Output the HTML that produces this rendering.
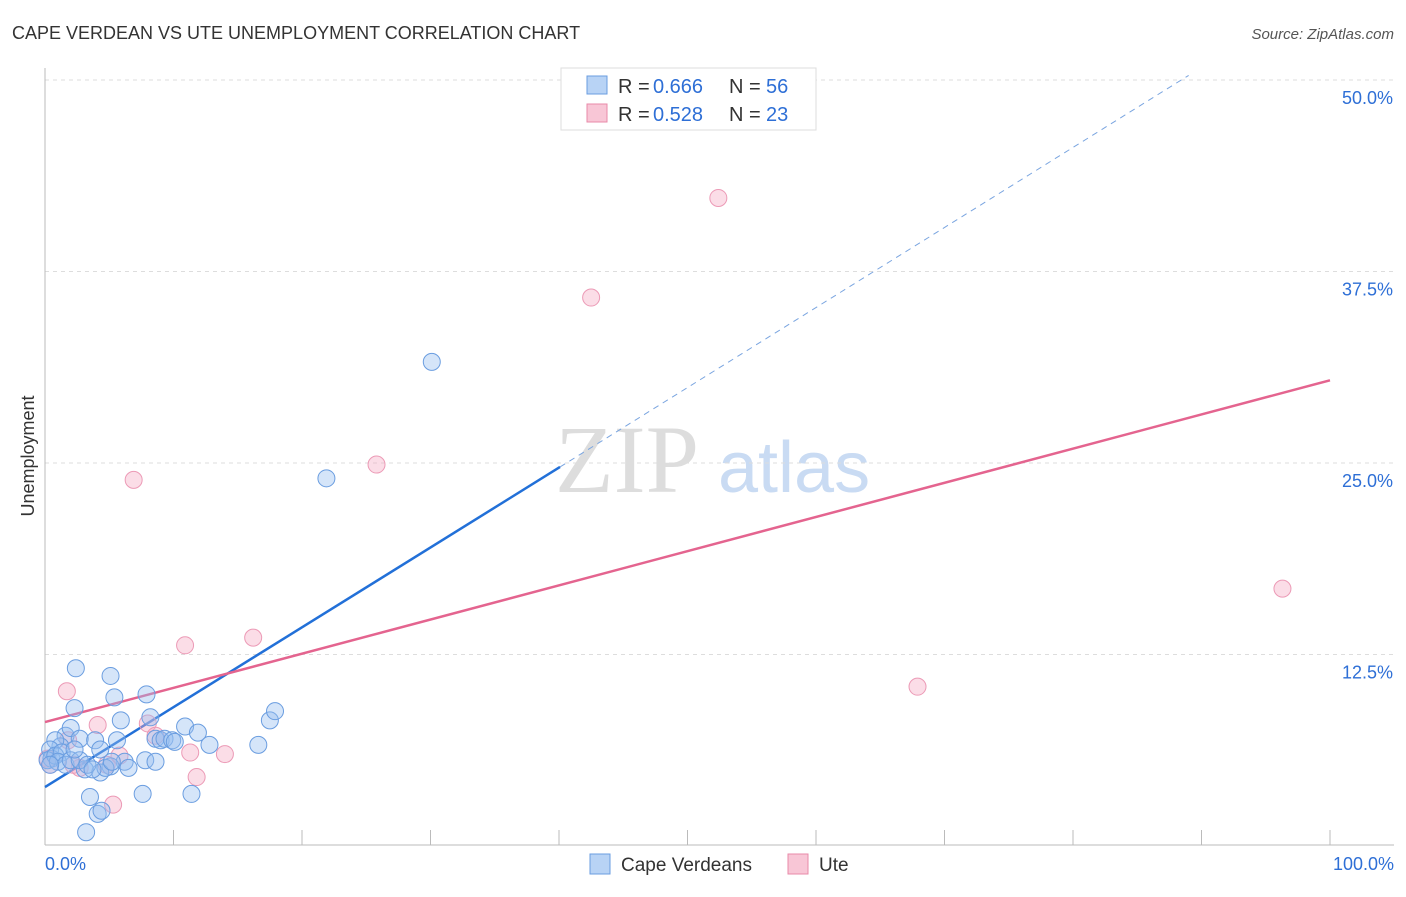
<!DOCTYPE html>
<html><head><meta charset="utf-8"><style>
body{margin:0;background:#fff;font-family:"Liberation Sans",sans-serif;}
</style></head><body>
<svg id="c" width="1406" height="892" xmlns="http://www.w3.org/2000/svg">
<text x="12" y="39" font-size="18" fill="#333">CAPE VERDEAN VS UTE UNEMPLOYMENT CORRELATION CHART</text>
<text x="1394" y="39" font-size="15" fill="#555" text-anchor="end" font-style="italic">Source: ZipAtlas.com</text>
<text transform="translate(34,456) rotate(-90)" font-size="18" fill="#333" text-anchor="middle">Unemployment</text>
<text x="555" y="492" font-size="96" fill="#ddd" font-family="Liberation Serif,serif">ZIP</text>
<text x="718" y="492" font-size="72" fill="#c9dbf3">atlas</text>
<g id="grid"></g><g id="axes"></g><g id="lines"></g><g id="pts"></g>
<g>
<rect x="561" y="68" width="255" height="62" fill="#fff" stroke="#ddd"/>
<rect x="587" y="76" width="20" height="18" fill="#b8d3f5" stroke="#6a9de0"/>
<rect x="587" y="104" width="20" height="18" fill="#f8c6d6" stroke="#e88aa8"/>
<text x="618" y="93" font-size="20" fill="#333">R =</text><text x="653" y="93" font-size="20" fill="#2e6fd6">0.666</text>
<text x="729" y="93" font-size="20" fill="#333">N =</text><text x="766" y="93" font-size="20" fill="#2e6fd6">56</text>
<text x="618" y="121" font-size="20" fill="#333">R =</text><text x="653" y="121" font-size="20" fill="#2e6fd6">0.528</text>
<text x="729" y="121" font-size="20" fill="#333">N =</text><text x="766" y="121" font-size="20" fill="#2e6fd6">23</text>
</g>
<g>
<rect x="590" y="854" width="20" height="20" fill="#b8d3f5" stroke="#6a9de0"/>
<text x="621" y="871" font-size="19" fill="#333">Cape Verdeans</text>
<rect x="788" y="854" width="20" height="20" fill="#f8c6d6" stroke="#e88aa8"/>
<text x="819" y="871" font-size="19" fill="#333">Ute</text>
</g>
</svg>
<script>
const yTicks=[12.5,25,37.5,50];
const yTickLabels=["12.5%","25.0%","37.5%","50.0%"];
const xTicks=[0,10,20,30,40,50,60,70,80,90,100];
const xLabels=["0.0%","100.0%"];
const blueX=[2.4,5.1,5.4,7.9,2.3,5.9,8.2,10.9,11.9,17.5,17.9,1.6,2.0,2.7,3.9,4.3,5.6,6.2,8.6,9.0,9.3,9.9,10.1,12.8,16.6,6.5,7.8,8.6,5.1,3.1,4.3,4.7,1.2,0.8,0.4,0.5,0.2,0.8,1.3,1.0,1.6,2.0,2.7,3.3,3.7,7.6,3.5,11.4,4.1,4.4,3.2,21.9,30.1,2.3,5.2,0.4];
const blueY=[11.6,11.1,9.7,9.9,9.0,8.2,8.4,7.8,7.4,8.2,8.8,7.2,7.7,7.0,6.9,6.3,6.9,5.5,7.0,6.9,7.0,6.9,6.8,6.6,6.6,5.1,5.6,5.5,5.2,5.0,4.8,5.1,6.5,6.9,6.3,5.7,5.6,5.9,6.1,5.5,5.3,5.6,5.6,5.3,5.0,3.4,3.2,3.4,2.1,2.3,0.9,24.0,31.6,6.3,5.5,5.3];
const pinkX=[52.4,42.5,25.8,6.9,96.3,67.9,16.2,10.9,1.7,4.1,8.0,8.6,11.3,14.0,11.8,5.3,5.8,1.8,0.4,0.2,2.7,2.2,4.8];
const pinkY=[42.3,35.8,24.9,23.9,16.8,10.4,13.6,13.1,10.1,7.9,8.0,7.2,6.1,6.0,4.5,2.7,5.9,6.9,5.3,5.7,5.1,5.3,5.3];
const blueLine=[[0,3.85],[40.08,24.74]];
const blueDash=[[40.08,24.74],[89,50.3]];
const pinkLine=[[0,8.09],[100,30.4]];
const X=v=>45+v*12.85, Y=v=>846-v*15.32;
const NS="http://www.w3.org/2000/svg";
function mk(t,a,p){const e=document.createElementNS(NS,t);for(const k in a)e.setAttribute(k,a[k]);document.getElementById(p).appendChild(e);return e;}
yTicks.forEach((t,i)=>{
 const g=mk('line',{x1:45,x2:1394,y1:Y(t),y2:Y(t),stroke:'#ddd','stroke-dasharray':'4,4'},'grid');
 
 
 const l=mk('text',{x:1393,y:Y(t)+24,'font-size':18,fill:'#2e6fd6','text-anchor':'end'},'grid');
 l.textContent=yTickLabels[i];
 
 
});
const ax=mk('line',{x1:45,x2:1394,y1:845,y2:845,stroke:'#bbb'},'axes');


const ay=mk('line',{x1:45,x2:45,y1:68,y2:845,stroke:'#bbb'},'axes');


xTicks.forEach(t=>{const e=mk('line',{x1:X(t),x2:X(t),y1:830,y2:845,stroke:'#bbb'},'axes');
 
 });
[[0,'start',45],[100,'end',1394]].forEach((d,i)=>{const e=mk('text',{x:d[2],y:870,'font-size':18,fill:'#2e6fd6','text-anchor':d[1]},'axes');e.textContent=xLabels[i];
 
 });
function ln(p,col,dash,name){const e=mk('line',{x1:X(p[0][0]),y1:Y(p[0][1]),x2:X(p[1][0]),y2:Y(p[1][1]),stroke:col,'stroke-width':dash?1:2.5},'lines');if(dash)e.setAttribute('stroke-dasharray','6,5');
 
 }
pinkX.forEach((v,i)=>{const e=mk('circle',{cx:X(v),cy:Y(pinkY[i]),r:8.5,fill:'rgba(245,170,195,0.4)',stroke:'#ec9ab6','stroke-width':1},'pts');
 
 });
blueX.forEach((v,i)=>{const e=mk('circle',{cx:X(v),cy:Y(blueY[i]),r:8.5,fill:'rgba(150,190,240,0.4)',stroke:'#6a9de0','stroke-width':1},'pts');
 
 });
ln(blueLine,'#2270d8',false,'cape-verdean-trendline');
ln(blueDash,'#7aa5e0',true,'cape-verdean-trend-extension');
ln(pinkLine,'#e4648f',false,'ute-trendline');
</script>
</body></html>
